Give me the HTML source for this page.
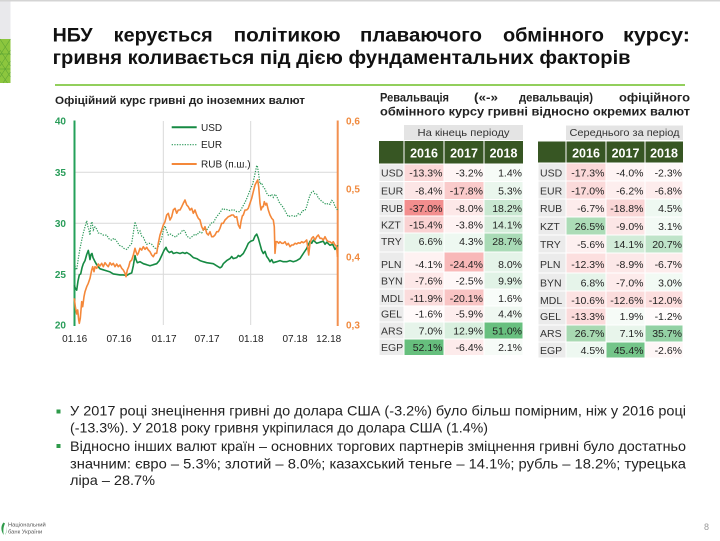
<!DOCTYPE html>
<html><head><meta charset="utf-8">
<style>html,body{margin:0;padding:0;background:#fff}svg{display:block}</style>
</head><body>
<svg xmlns="http://www.w3.org/2000/svg" width="720" height="541" viewBox="0 0 720 541" font-family="'Liberation Sans', sans-serif">
<rect x="0" y="0" width="720" height="541" fill="#fff"/>
<rect x="0" y="0" width="720" height="1.5" fill="#d4d4d4"/>
<rect x="0" y="1.5" width="10.5" height="37.5" fill="#e9e9ec"/>
<rect x="0" y="39" width="10.5" height="44" fill="#8cc63e"/>
<g stroke="#5fa534" stroke-width="0.6" fill="none">
<path d="M0,39 L10.5,55 M10.5,39 L0,55 M0,50 L10.5,66 M10.5,50 L0,66 M0,61 L10.5,77 M10.5,61 L0,77 M0,72 L7.5,83 M10.5,72 L3,83"/>
<path d="M0,54 H10.5 M0,69 H10.5" stroke="#4e9a2e"/>
</g>

<!-- Title -->
<g font-weight="bold" font-size="19" fill="#111">
<text x="52.6" y="41.7" textLength="40" lengthAdjust="spacingAndGlyphs">НБУ</text>
<text x="113.7" y="41.7" textLength="99" lengthAdjust="spacingAndGlyphs">керується</text>
<text x="233.6" y="41.7" textLength="107" lengthAdjust="spacingAndGlyphs">політикою</text>
<text x="360" y="41.7" textLength="122" lengthAdjust="spacingAndGlyphs">плаваючого</text>
<text x="503" y="41.7" textLength="101" lengthAdjust="spacingAndGlyphs">обмінного</text>
<text x="623" y="41.7" textLength="67" lengthAdjust="spacingAndGlyphs">курсу:</text>
<text x="52.6" y="64" textLength="578" lengthAdjust="spacingAndGlyphs">гривня коливається під дією фундаментальних факторів</text>
</g>
<rect x="55" y="84" width="630" height="2" fill="#92cf5c"/>

<!-- Section headings -->
<text x="55" y="104" font-weight="bold" font-size="11" fill="#222" textLength="250" lengthAdjust="spacingAndGlyphs">Офіційний курс гривні до іноземних валют</text>
<g font-weight="bold" font-size="11.5" fill="#222">
<text x="380" y="101.7" textLength="69" lengthAdjust="spacingAndGlyphs">Ревальвація</text>
<text x="474" y="101.7" textLength="24" lengthAdjust="spacingAndGlyphs">(«-»</text>
<text x="519" y="101.7" textLength="74" lengthAdjust="spacingAndGlyphs">девальвація)</text>
<text x="619" y="101.7" textLength="71" lengthAdjust="spacingAndGlyphs">офіційного</text>
<text x="380" y="115.5" textLength="310" lengthAdjust="spacingAndGlyphs">обмінного курсу гривні відносно окремих валют</text>
</g>

<!-- Chart -->
<g stroke="#d9d9d9" stroke-width="1">
<line x1="75" y1="172.3" x2="337" y2="172.3"/>
<line x1="75" y1="223.3" x2="337" y2="223.3"/>
<line x1="75" y1="274.3" x2="337" y2="274.3"/>
<line x1="163.3" y1="121" x2="163.3" y2="325"/>
<line x1="250.7" y1="121" x2="250.7" y2="325"/>
</g>
<line x1="74.5" y1="120.5" x2="74.5" y2="326" stroke="#24a05a" stroke-width="2"/>
<line x1="337.7" y1="120.5" x2="337.7" y2="326" stroke="#f29050" stroke-width="2"/>

<g font-size="10" fill="#2a9d5a" font-weight="bold" text-anchor="end">
<text x="66" y="124.5">40</text>
<text x="66" y="175.8">35</text>
<text x="66" y="226.8">30</text>
<text x="66" y="277.8">25</text>
<text x="66" y="328.5">20</text>
</g>
<g font-size="10" fill="#f08a3e" font-weight="bold">
<text x="346" y="124.5">0,6</text>
<text x="346" y="192.5">0,5</text>
<text x="346" y="260.5">0,4</text>
<text x="346" y="328.5">0,3</text>
</g>
<g font-size="10" fill="#222" text-anchor="middle">
<text x="74.7" y="342">01.16</text>
<text x="119" y="342">07.16</text>
<text x="164" y="342">01.17</text>
<text x="207" y="342">07.17</text>
<text x="251" y="342">01.18</text>
<text x="295" y="342">07.18</text>
<text x="328.7" y="342">12.18</text>
</g>

<!-- USD -->
<polyline fill="none" stroke="#168a43" stroke-width="1.6" stroke-linejoin="round" points="74.3,285.2 75.3,288.2 76.7,290.2 78,281.0 79.3,274.9 80.7,273.9 82,267.8 83.3,263.7 85,260.6 86.7,254.5 88.3,250.4 89.3,255.5 90,259.6 91,254.5 92,253.5 93,257.6 94,259.6 95,261.7 96.7,264.7 98.3,266.8 100,268.8 103.3,269.8 106.7,270.9 110,271.9 113.3,273.9 116.7,274.4 120,274.9 123.3,274.9 126.7,275.4 129.3,273.9 131.7,272.9 133.3,265.8 135,255.5 136,259.6 137.3,262.7 140,261.7 143.3,263.7 146.7,264.7 150,265.8 153.3,264.7 156.7,263.7 159.3,260.6 161.7,255.5 164,250.4 166,247.3 167.3,250.4 169.3,252.5 171.7,251.4 173.3,253.5 176.7,252.5 180,253.5 182.7,252.5 185,253.5 186.7,252.5 190,254.5 193.3,257.6 196.7,258.6 200,260.6 203.3,261.7 206.7,262.7 210,263.2 213.3,263.7 216.7,265.8 220,267.8 221.7,266.8 223.3,263.7 226.7,260.6 230,258.6 231.7,256.5 233.3,258.6 236.7,257.6 238.3,255.5 240,256.5 243.3,253.5 246,248.4 248.3,243.3 250.7,241.2 253.3,240.2 255,236.1 256.7,234.1 258.3,238.2 260,244.3 261.7,250.4 263.3,253.5 265,251.4 266.7,256.5 268.3,258.6 270,261.7 271.7,259.6 273.3,262.7 276.7,261.7 280,260.6 283.3,261.7 286.7,261.7 290,260.6 293.3,261.7 296.7,260.6 300,258.6 303.3,253.5 306.7,248.4 310,241.2 311.7,243.3 313.3,240.2 316.7,243.3 320,242.2 323.3,241.2 325,244.3 326.7,242.2 330,245.3 332.7,244.3 335,249.4 336.7,247.3 337.7,245.3"/>

<!-- EUR -->
<polyline fill="none" stroke="#2f9a5c" stroke-width="1.2" stroke-dasharray="1.3 1.3" points="74.3,260.6 75.3,267.8 76.7,269.8 78.3,258.6 80,248.4 81.7,240.2 83.3,233.0 85,226.9 86.7,220.8 87.7,225.9 88.7,229.0 90,235.1 91,223.8 92,221.8 93.3,230.0 95,226.9 96.7,229.0 98.3,233.0 100,233.0 103.3,235.1 106.7,235.1 109.3,239.2 111.7,240.2 114,238.2 116.7,241.2 119.3,245.3 121.7,246.3 124,248.4 126.7,249.4 129.3,246.3 131.7,243.3 133.3,233.0 135,221.8 136.7,226.9 138.3,233.0 140,231.0 141.7,236.1 143.3,237.1 145,241.2 146.7,244.3 149.3,243.3 151.7,244.3 154,247.3 156.7,249.4 159.3,244.3 161.7,238.2 163.3,230.0 165,225.9 166.7,231.0 168.3,235.1 170.7,234.1 173.3,236.1 176,237.1 178.3,234.1 180,234.1 182.7,230.0 185,231.0 186.7,236.1 190,238.2 192.7,236.1 195,234.1 196.7,235.1 199.3,232.0 201.7,233.0 204,229.0 206.7,230.0 209.3,225.9 211.7,222.8 213.3,222.8 216,217.7 218.3,214.7 220,212.6 222.7,208.5 225,209.5 226.7,209.5 230,210.6 233.3,209.5 236.7,211.6 240,211.6 242.7,206.5 245,202.4 247.3,197.3 250,190.1 252.7,184.0 255,173.8 256.7,165.6 257.3,165.6 258.3,171.7 260,184.0 261.7,183.0 263.3,187.1 265,189.1 266.7,193.2 268.3,195.2 270,196.3 271.7,194.2 273.3,197.3 275,194.2 276.7,196.3 279.3,202.4 281.7,205.5 283.3,207.5 286,212.6 288.3,216.7 290.7,215.7 293.3,215.7 296,216.7 298.3,213.6 300,214.7 302.7,210.6 305,210.6 306.7,206.5 308.3,200.4 310,195.2 311.7,192.2 313.3,191.2 315,194.2 316.7,194.2 318.3,198.3 320,199.3 321.7,201.4 323.3,202.4 326,204.4 328.3,203.4 330,204.4 331.7,200.4 333.3,201.4 335,206.5 336.7,208.5 337.7,210.6"/>

<!-- RUB -->
<polyline fill="none" stroke="#f4883a" stroke-width="1.6" stroke-linejoin="round" points="74.3,298.3 75.3,306.7 76.7,314 77.7,310 78.7,320 79.3,323.3 80.3,318.3 81.7,301.7 82.7,306.7 84,296.7 85,291.7 86.7,286.7 88.3,283.3 90,278.3 91.7,270 92.7,266.7 94,271.7 95,266.7 96.7,268.3 98.3,264 100,266 101.7,263.3 103.3,266.7 105,262.7 106.7,265 108.3,266.7 110,262.7 111.7,265 113.3,263.3 115,266.7 116.7,264 118.3,266.7 120,265 121.7,268.3 123.3,270 125,273.3 126,276.7 127.3,270 128.7,266.7 130,261.7 131.7,260 133.3,255 135,248.3 136,251.7 137.3,255 138.3,253.3 140,248.3 141.7,250 143.3,246.7 145,249.3 146.7,247.3 148.3,250 150,251.7 151.7,255 153.3,256.7 155,253.3 156.7,253.3 158.3,243.3 160,235 161.7,230 163.3,225 165,221.7 166.7,215 168.3,213.3 170,220 171.7,216.7 173.3,210 175,208.3 176.7,213.3 178.3,210 180,210 181.7,206.7 183.3,203.3 185,200 186.7,205 188.3,206.7 190,210 191.7,208.3 193.3,213.3 195,210 196.7,215 198.3,218.3 200,220 201.7,226.7 203.3,230 205,226.7 206.7,233.3 208.3,235 210,231.7 211.7,236.7 213.3,236.7 215,235 216.7,231.7 218.3,231.7 220,228.3 221.7,223.3 223.3,223.3 225,220 226.7,218.3 228.3,216.7 230,216 231.7,215 233.3,215 235,217.3 236.7,216.7 238.3,225 240,228.3 241,221.7 242.3,216 243.3,215 245,210 246.7,210 248.3,208.3 250,203.3 251.7,198.3 253.3,191.7 255,185 256.7,181.7 257.7,180 258.7,186.7 260,203.3 261,210 262.3,206.7 263.3,206.7 264.3,201.7 265.7,205 266.7,203.3 268.3,210 270,215 271.7,218.3 273.3,220 274.3,226.7 275,253.3 276,241.7 277.3,241.7 278.7,243.3 280,241.7 281.7,243.3 283.3,243.3 285,241.7 286.7,245 288.3,243.3 290,246.7 291.7,245 293.3,245 295,243.3 296.7,244 298.3,242.7 300,243.3 301.7,241.7 303.3,242.7 305,241.7 306.7,240 307.7,246.7 308.7,255 310,243.3 311.7,238.3 313.3,236.7 315,240 316.7,236.7 318.3,235 320,238.3 321.7,238.3 323.3,240 325,236.7 326.7,240 328.3,241.7 330,241.7 331.7,243.3 333.3,241.7 335,245 336.7,246.7 337.5,257"/>

<!-- Legend -->
<line x1="171.7" y1="127.3" x2="196.7" y2="127.3" stroke="#168a43" stroke-width="2"/>
<line x1="171.7" y1="144.7" x2="196.7" y2="144.7" stroke="#2f9a5c" stroke-width="1.2" stroke-dasharray="1.3 1.3"/>
<line x1="171.7" y1="164" x2="196.7" y2="164" stroke="#f4883a" stroke-width="2"/>
<g font-size="10" fill="#222">
<text x="201" y="130.8">USD</text>
<text x="201" y="148.2">EUR</text>
<text x="201" y="167.5">RUB (п.ш.)</text>
</g>

<!-- Left table -->
<rect x="404" y="125" width="119" height="15" fill="#e4e4e4"/>
<text x="463.5" y="136" font-size="10.5" fill="#333" text-anchor="middle" textLength="92" lengthAdjust="spacingAndGlyphs">На кінець періоду</text>
<rect x="379" y="141" width="144" height="22.5" fill="#375623"/>
<g stroke="#fff" stroke-width="1"><line x1="404" y1="141" x2="404" y2="163.5"/><line x1="444" y1="141" x2="444" y2="163.5"/><line x1="484" y1="141" x2="484" y2="163.5"/></g>
<g font-size="12.5" font-weight="bold" fill="#fff" text-anchor="middle">
<text x="424" y="157.5">2016</text><text x="464" y="157.5">2017</text><text x="503.5" y="157.5">2018</text>
</g>
<g stroke="#fff" stroke-width="1">
<rect x="379" y="164" width="25" height="17.5" fill="#ebebeb"/><rect x="404" y="164" width="40" height="17.5" fill="#fbd8d8"/><rect x="444" y="164" width="40" height="17.5" fill="#fef5f5"/><rect x="484" y="164" width="39" height="17.5" fill="#f6fbf7"/>
<rect x="379" y="181.5" width="25" height="18" fill="#ebebeb"/><rect x="404" y="181.5" width="40" height="18" fill="#fce6e6"/><rect x="444" y="181.5" width="40" height="18" fill="#facbcb"/><rect x="484" y="181.5" width="39" height="18" fill="#eaf6ed"/>
<rect x="379" y="199.5" width="25" height="16.5" fill="#ebebeb"/><rect x="404" y="199.5" width="40" height="16.5" fill="#f38e8e"/><rect x="444" y="199.5" width="40" height="16.5" fill="#fde8e8"/><rect x="484" y="199.5" width="39" height="16.5" fill="#c9e8d1"/>
<rect x="379" y="216" width="25" height="17" fill="#ebebeb"/><rect x="404" y="216" width="40" height="17" fill="#fad2d2"/><rect x="444" y="216" width="40" height="17" fill="#fef3f3"/><rect x="484" y="216" width="39" height="17" fill="#d5eddb"/>
<rect x="379" y="233" width="25" height="19" fill="#ebebeb"/><rect x="404" y="233" width="40" height="19" fill="#e6f4ea"/><rect x="444" y="233" width="40" height="19" fill="#eef8f1"/><rect x="484" y="233" width="39" height="19" fill="#a9dbb6"/>
<rect x="379" y="252" width="25" height="20" fill="#ebebeb"/><rect x="404" y="252" width="40" height="20" fill="#fef2f2"/><rect x="444" y="252" width="40" height="20" fill="#f8b8b8"/><rect x="484" y="252" width="39" height="20" fill="#e5f4e9"/>
<rect x="379" y="272" width="25" height="17" fill="#ebebeb"/><rect x="404" y="272" width="40" height="17" fill="#fde8e8"/><rect x="444" y="272" width="40" height="17" fill="#fef7f7"/><rect x="484" y="272" width="39" height="17" fill="#e1f3e6"/>
<rect x="379" y="289" width="25" height="17" fill="#ebebeb"/><rect x="404" y="289" width="40" height="17" fill="#fbdcdc"/><rect x="444" y="289" width="40" height="17" fill="#f9c4c4"/><rect x="484" y="289" width="39" height="17" fill="#f8fcf9"/>
<rect x="379" y="306" width="25" height="16" fill="#ebebeb"/><rect x="404" y="306" width="40" height="16" fill="#fffafa"/><rect x="444" y="306" width="40" height="16" fill="#fdeded"/><rect x="484" y="306" width="39" height="16" fill="#eff8f1"/>
<rect x="379" y="322" width="25" height="17" fill="#ebebeb"/><rect x="404" y="322" width="40" height="17" fill="#e6f4ea"/><rect x="444" y="322" width="40" height="17" fill="#d8efde"/><rect x="484" y="322" width="39" height="17" fill="#68c07f"/>
<rect x="379" y="339" width="25" height="16.5" fill="#ebebeb"/><rect x="404" y="339" width="40" height="16.5" fill="#66bf7d"/><rect x="444" y="339" width="40" height="16.5" fill="#fdebeb"/><rect x="484" y="339" width="39" height="16.5" fill="#f6fbf7"/>
</g>
<g font-size="10.5" fill="#333">
<text x="381" y="176.5">USD</text><text x="381" y="194.5">EUR</text><text x="381" y="211.8">RUB</text><text x="381" y="228.3">KZT</text><text x="381" y="244.8">TRY</text><text x="381" y="267.8">PLN</text><text x="381" y="284.5">BYN</text><text x="381" y="301.8">MDL</text><text x="381" y="317.3">GEL</text><text x="381" y="334.5">ARS</text><text x="381" y="351">EGP</text>
</g>
<g font-size="10.5" fill="#222" text-anchor="end">
<text x="442.5" y="176.5">-13.3%</text><text x="483" y="176.5">-3.2%</text><text x="522" y="176.5">1.4%</text>
<text x="442.5" y="194.5">-8.4%</text><text x="483" y="194.5">-17.8%</text><text x="522" y="194.5">5.3%</text>
<text x="442.5" y="211.8">-37.0%</text><text x="483" y="211.8">-8.0%</text><text x="522" y="211.8">18.2%</text>
<text x="442.5" y="228.3">-15.4%</text><text x="483" y="228.3">-3.8%</text><text x="522" y="228.3">14.1%</text>
<text x="442.5" y="244.8">6.6%</text><text x="483" y="244.8">4.3%</text><text x="522" y="244.8">28.7%</text>
<text x="442.5" y="267.8">-4.1%</text><text x="483" y="267.8">-24.4%</text><text x="522" y="267.8">8.0%</text>
<text x="442.5" y="284.5">-7.6%</text><text x="483" y="284.5">-2.5%</text><text x="522" y="284.5">9.9%</text>
<text x="442.5" y="301.8">-11.9%</text><text x="483" y="301.8">-20.1%</text><text x="522" y="301.8">1.6%</text>
<text x="442.5" y="317.3">-1.6%</text><text x="483" y="317.3">-5.9%</text><text x="522" y="317.3">4.4%</text>
<text x="442.5" y="334.5">7.0%</text><text x="483" y="334.5">12.9%</text><text x="522" y="334.5">51.0%</text>
<text x="442.5" y="351">52.1%</text><text x="483" y="351">-6.4%</text><text x="522" y="351">2.1%</text>
</g>

<!-- Right table -->
<rect x="566" y="125.5" width="117" height="14.5" fill="#e4e4e4"/>
<text x="624.5" y="136" font-size="10.5" fill="#333" text-anchor="middle" textLength="110" lengthAdjust="spacingAndGlyphs">Середнього за період</text>
<rect x="538" y="141.5" width="145" height="21.5" fill="#375623"/>
<g stroke="#fff" stroke-width="1"><line x1="566" y1="141.5" x2="566" y2="163"/><line x1="606" y1="141.5" x2="606" y2="163"/><line x1="645" y1="141.5" x2="645" y2="163"/></g>
<g font-size="12.5" font-weight="bold" fill="#fff" text-anchor="middle">
<text x="586" y="157.5">2016</text><text x="625.5" y="157.5">2017</text><text x="664" y="157.5">2018</text>
</g>
<g stroke="#fff" stroke-width="1">
<rect x="538" y="163" width="28" height="18" fill="#ebebeb"/><rect x="566" y="163" width="40" height="18" fill="#fbd9d9"/><rect x="606" y="163" width="39" height="18" fill="#fef4f4"/><rect x="645" y="163" width="38" height="18" fill="#fef8f8"/>
<rect x="538" y="181" width="28" height="18" fill="#ebebeb"/><rect x="566" y="181" width="40" height="18" fill="#fbdada"/><rect x="606" y="181" width="39" height="18" fill="#fdeeee"/><rect x="645" y="181" width="38" height="18" fill="#fdecec"/>
<rect x="538" y="199" width="28" height="18" fill="#ebebeb"/><rect x="566" y="199" width="40" height="18" fill="#fdecec"/><rect x="606" y="199" width="39" height="18" fill="#fad6d6"/><rect x="645" y="199" width="38" height="18" fill="#eef8f1"/>
<rect x="538" y="217" width="28" height="18" fill="#ebebeb"/><rect x="566" y="217" width="40" height="18" fill="#acdcb7"/><rect x="606" y="217" width="39" height="18" fill="#fce6e6"/><rect x="645" y="217" width="38" height="18" fill="#f3faf5"/>
<rect x="538" y="235" width="28" height="18" fill="#ebebeb"/><rect x="566" y="235" width="40" height="18" fill="#fdf0f0"/><rect x="606" y="235" width="39" height="18" fill="#d3ecd9"/><rect x="645" y="235" width="38" height="18" fill="#bfe4c9"/>
<rect x="538" y="253" width="28" height="20" fill="#ebebeb"/><rect x="566" y="253" width="40" height="20" fill="#fcdfdf"/><rect x="606" y="253" width="39" height="20" fill="#fce8e8"/><rect x="645" y="253" width="38" height="20" fill="#fdecec"/>
<rect x="538" y="273" width="28" height="18" fill="#ebebeb"/><rect x="566" y="273" width="40" height="18" fill="#e6f4ea"/><rect x="606" y="273" width="39" height="18" fill="#fdebeb"/><rect x="645" y="273" width="38" height="18" fill="#f2faf4"/>
<rect x="538" y="291" width="28" height="17" fill="#ebebeb"/><rect x="566" y="291" width="40" height="17" fill="#fce2e2"/><rect x="606" y="291" width="39" height="17" fill="#fbdcdc"/><rect x="645" y="291" width="38" height="17" fill="#fcdede"/>
<rect x="538" y="308" width="28" height="17" fill="#ebebeb"/><rect x="566" y="308" width="40" height="17" fill="#fbdbdb"/><rect x="606" y="308" width="39" height="17" fill="#f6fbf7"/><rect x="645" y="308" width="38" height="17" fill="#fffbfb"/>
<rect x="538" y="325" width="28" height="17" fill="#ebebeb"/><rect x="566" y="325" width="40" height="17" fill="#a8d9b2"/><rect x="606" y="325" width="39" height="17" fill="#e8f5eb"/><rect x="645" y="325" width="38" height="17" fill="#93d1a4"/>
<rect x="538" y="342" width="28" height="16" fill="#ebebeb"/><rect x="566" y="342" width="40" height="16" fill="#eef8f1"/><rect x="606" y="342" width="39" height="16" fill="#74c589"/><rect x="645" y="342" width="38" height="16" fill="#fef6f6"/>
</g>
<g font-size="10.5" fill="#333">
<text x="540" y="176.5">USD</text><text x="540" y="194.5">EUR</text><text x="540" y="212.1">RUB</text><text x="540" y="229.8">KZT</text><text x="540" y="247.8">TRY</text><text x="540" y="267.8">PLN</text><text x="540" y="286.5">BYN</text><text x="540" y="303.8">MDL</text><text x="540" y="319.8">GEL</text><text x="540" y="337.1">ARS</text><text x="540" y="353.8">EGP</text>
</g>
<g font-size="10.5" fill="#222" text-anchor="end">
<text x="604.5" y="176.5">-17.3%</text><text x="643.5" y="176.5">-4.0%</text><text x="682" y="176.5">-2.3%</text>
<text x="604.5" y="194.5">-17.0%</text><text x="643.5" y="194.5">-6.2%</text><text x="682" y="194.5">-6.8%</text>
<text x="604.5" y="212.1">-6.7%</text><text x="643.5" y="212.1">-18.8%</text><text x="682" y="212.1">4.5%</text>
<text x="604.5" y="229.8">26.5%</text><text x="643.5" y="229.8">-9.0%</text><text x="682" y="229.8">3.1%</text>
<text x="604.5" y="247.8">-5.6%</text><text x="643.5" y="247.8">14.1%</text><text x="682" y="247.8">20.7%</text>
<text x="604.5" y="267.8">-12.3%</text><text x="643.5" y="267.8">-8.9%</text><text x="682" y="267.8">-6.7%</text>
<text x="604.5" y="286.5">6.8%</text><text x="643.5" y="286.5">-7.0%</text><text x="682" y="286.5">3.0%</text>
<text x="604.5" y="303.8">-10.6%</text><text x="643.5" y="303.8">-12.6%</text><text x="682" y="303.8">-12.0%</text>
<text x="604.5" y="319.8">-13.3%</text><text x="643.5" y="319.8">1.9%</text><text x="682" y="319.8">-1.2%</text>
<text x="604.5" y="337.1">26.7%</text><text x="643.5" y="337.1">7.1%</text><text x="682" y="337.1">35.7%</text>
<text x="604.5" y="353.8">4.5%</text><text x="643.5" y="353.8">45.4%</text><text x="682" y="353.8">-2.6%</text>
</g>

<!-- Bullets -->
<rect x="56.5" y="409.5" width="4" height="4" fill="#2e9a4a"/>
<rect x="56.5" y="444" width="4" height="4" fill="#2e9a4a"/>
<g font-size="14" fill="#222">
<text x="70" y="415.7" textLength="616" lengthAdjust="spacingAndGlyphs">У 2017 році знецінення гривні до долара США (-3.2%) було більш помірним, ніж у 2016 році</text>
<text x="70" y="432.3" textLength="418" lengthAdjust="spacingAndGlyphs">(-13.3%). У 2018 року гривня укріпилася до долара США (1.4%)</text>
<text x="70" y="451" textLength="616" lengthAdjust="spacingAndGlyphs">Відносно інших валют країн – основних торгових партнерів зміцнення гривні було достатньо</text>
<text x="70" y="468.3" textLength="616" lengthAdjust="spacingAndGlyphs">значним: євро – 5.3%; злотий – 8.0%; казахський теньге – 14.1%; рубль – 18.2%; турецька</text>
<text x="70" y="485" textLength="85" lengthAdjust="spacingAndGlyphs">ліра – 28.7%</text>
</g>

<!-- Footer logo -->
<path d="M3.5,522.5 C0.5,526 0.8,531 3.8,535 C3,531 3.2,527 5,523.5 Z M5.5,524 C7,527 7,531 5,535 C6.8,533 7.5,528 5.5,524 Z" fill="#2e9a4a"/>
<g font-size="5.8" fill="#555">
<text x="8" y="526.5">Національний</text>
<text x="8" y="533.5">банк України</text>
</g>
<text x="704" y="530" font-size="9" fill="#9a9a9a">8</text>
</svg>
</body></html>
